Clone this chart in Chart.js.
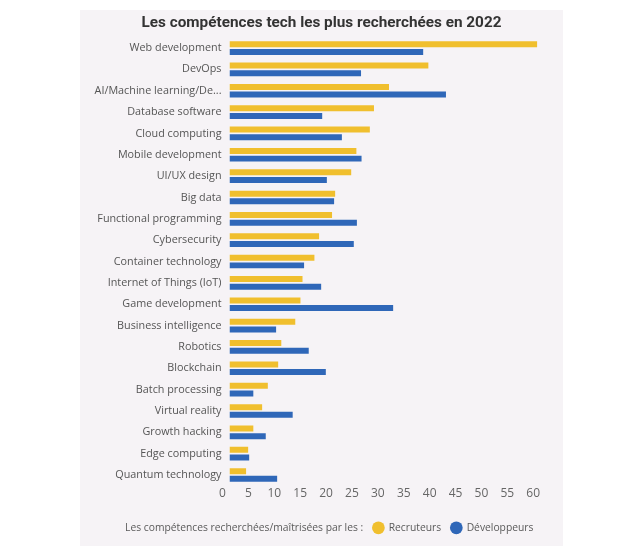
<!DOCTYPE html>
<html>
<head>
<meta charset="utf-8">
<script src="https://cdn.jsdelivr.net/npm/chart.js@4"></script>
<style>
  html, body { margin: 0; padding: 0; background: #ffffff; width: 640px; height: 546px; overflow: hidden; }
  #panel { position: absolute; left: 80px; top: 10px; width: 483px; height: 536px; background: #f6f3f6; }
  #panel canvas { position: absolute; left: 0; top: 0; }
</style>
</head>
<body>
<div id="panel"><canvas id="c" width="483" height="536"></canvas></div>
<script>
const categories = [
  "Web development", "DevOps", "AI/Machine learning/De...", "Database software",
  "Cloud computing", "Mobile development", "UI/UX design", "Big data",
  "Functional programming", "Cybersecurity", "Container technology",
  "Internet of Things (IoT)", "Game development", "Business intelligence",
  "Robotics", "Blockchain", "Batch processing", "Virtual reality",
  "Growth hacking", "Edge computing", "Quantum technology"
];
const recruteurs = [59.4, 38.4, 30.8, 27.9, 27.1, 24.5, 23.5, 20.4, 19.8, 17.3, 16.4,
  14.1, 13.7, 12.7, 10.0, 9.4, 7.4, 6.3, 4.6, 3.6, 3.2];
const developpeurs = [37.4, 25.4, 41.8, 17.9, 21.7, 25.5, 18.8, 20.2, 24.6, 24.0, 14.4,
  17.7, 31.6, 9.0, 15.3, 18.6, 4.6, 12.2, 7.0, 3.8, 9.2];
const xTickValues = [0, 5, 10, 15, 20, 25, 30, 35, 40, 45, 50, 55, 60];
const seriesNames = ["Recruteurs", "Développeurs"];
const seriesColors = ['#f0bf2e', '#2f67b8'];
const titleText = "Les compétences tech les plus recherchées en 2022";
const legendPrefix = "Les compétences recherchées/maîtrisées par les :";

new Chart(document.getElementById('c'), {
  type: 'bar',
  data: {
    labels: categories,
    datasets: [
      { label: seriesNames[0], data: recruteurs, backgroundColor: seriesColors[0],
        categoryPercentage: 0.72, barPercentage: 0.78 },
      { label: seriesNames[1], data: developpeurs, backgroundColor: seriesColors[1],
        categoryPercentage: 0.72, barPercentage: 0.78 }
    ]
  },
  options: {
    indexAxis: 'y',
    responsive: false,
    animation: false,
    layout: { padding: { left: 0, right: 0, top: 0, bottom: 3 } },
    scales: {
      y: {
        grid: { display: false, drawTicks: false },
        border: { display: false },
        ticks: { font: { family: "'Open Sans'", size: 10.8 }, color: '#555555', padding: 8, autoSkip: false },
        afterFit(s) { s.width = 149.5; }
      },
      x: {
        min: 0, max: 64.4,
        grid: { display: false, drawTicks: false },
        border: { display: false },
        afterBuildTicks(s) { s.ticks = xTickValues.map(v => ({ value: v })); },
        ticks: { font: { family: "'Open Sans'", size: 12 }, color: '#666666', padding: 1,
                 labelOffset: -7, includeBounds: false },
        afterFit(s) { s.height = 27; }
      }
    },
    plugins: {
      title: {
        display: true, text: titleText, color: '#333333',
        font: { family: "Roboto", size: 15.3, weight: 'bold' },
        padding: { top: 4, bottom: 5 }
      },
      legend: {
        position: 'bottom', align: 'center',
        labels: {
          usePointStyle: true, pointStyle: 'circle', boxHeight: 9, boxWidth: 12,
          font: { family: "'Open Sans'", size: 10.3 }, color: '#5a5a5a', padding: 10,
          generateLabels(chart) {
            const items = Chart.defaults.plugins.legend.labels.generateLabels(chart);
            items.forEach(it => { it.fontColor = '#5a5a5a'; });
            return [{
              text: legendPrefix, fillStyle: 'rgba(0,0,0,0)', strokeStyle: 'rgba(0,0,0,0)',
              lineWidth: 0, pointStyle: 'circle', hidden: false, fontColor: '#5a5a5a', datasetIndex: -1
            }].concat(items);
          }
        }
      },
      tooltip: { enabled: false }
    }
  }
});
</script>
</body>
</html>
